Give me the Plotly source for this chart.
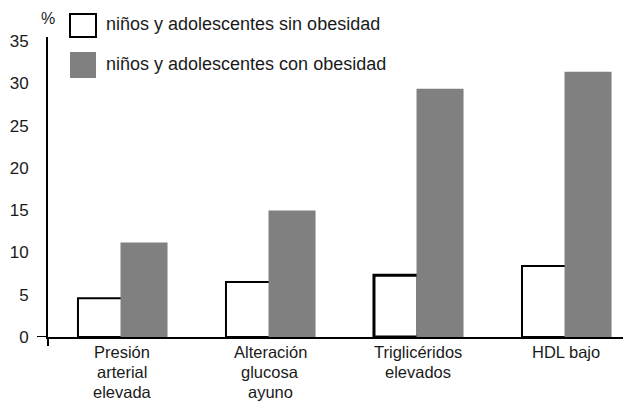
import plotly.graph_objects as go

categories = ["Presión<br>arterial<br>elevada", "Alteración<br>glucosa<br>ayuno",
              "Triglicéridos<br>elevados", "HDL bajo"]
sin_obesidad = [4.6, 6.5, 7.3, 8.4]
con_obesidad = [11.0, 14.8, 29.2, 31.2]
series_names = ["niños y adolescentes sin obesidad", "niños y adolescentes con obesidad"]
y_ticks = [0, 5, 10, 15, 20, 25, 30, 35]

W, H = 623, 402
ML, MR, MT, MB = 48, 0, 37, 65
PW, PH = W - ML - MR, H - MT - MB
FONT = "Liberation Sans, Arial, sans-serif"
TXT = "#1a1a1a"
GRAY = "#808080"

def px(x):
    return (x - ML) / PW

def py(y):
    return (H - MB - y) / PH

x_idx = list(range(len(categories)))

fig = go.Figure()
fig.add_trace(go.Bar(x=x_idx, y=sin_obesidad, name=series_names[0],
                     marker=dict(color="white", line=dict(color="black", width=[2, 2, 3, 2]))))
fig.add_trace(go.Bar(x=x_idx, y=con_obesidad, name=series_names[1],
                     marker=dict(color=GRAY, line=dict(color=GRAY, width=3))))

fig.update_layout(
    width=W, height=H,
    margin=dict(l=ML, r=MR, t=MT, b=MB, autoexpand=False),
    paper_bgcolor="white", plot_bgcolor="white",
    barmode="group", bargap=0.405, bargroupgap=0,
    showlegend=False,
    font=dict(family=FONT, size=17, color=TXT),
    xaxis=dict(range=[-0.5, 3.385], tickvals=x_idx, showticklabels=False,
               showline=True, linecolor="black", linewidth=2, ticks="",
               showgrid=False, zeroline=False, fixedrange=True, automargin=False),
    yaxis=dict(range=[0, 35.5], tickvals=y_ticks, showline=True, linecolor="black",
               linewidth=2, ticks="", showgrid=False, zeroline=False, automargin=False,
               ticklabelstandoff=14, tickfont=dict(size=17, color=TXT)),
)

# category labels (tighter line spacing than tick labels allow)
for i, cat in enumerate(categories):
    for j, line in enumerate(cat.split("<br>")):
        fig.add_annotation(xref="x", yref="paper", x=i, y=py(352 + 20 * j), text=line,
                           showarrow=False, xanchor="center", yanchor="middle",
                           font=dict(size=16.5, color=TXT))

# origin cross extensions
fig.add_shape(type="line", xref="paper", yref="y", xsizemode="pixel", xanchor=0,
              x0=-11, x1=0, y0=0, y1=0, line=dict(color="black", width=2))
fig.add_shape(type="line", xref="paper", yref="paper", ysizemode="pixel", yanchor=0,
              y0=-9, y1=0, x0=0, x1=0, line=dict(color="black", width=2))

# legend drawn manually
fig.add_shape(type="rect", xref="paper", yref="paper", x0=px(70), x1=px(96), y0=py(37), y1=py(14),
              line=dict(color="black", width=2), fillcolor="white")
fig.add_shape(type="rect", xref="paper", yref="paper", x0=px(70), x1=px(96), y0=py(78), y1=py(52),
              line=dict(width=0), fillcolor=GRAY)
fig.add_annotation(xref="paper", yref="paper", x=px(104), y=py(24), text=series_names[0],
                   showarrow=False, xanchor="left", yanchor="middle", font=dict(size=18, color=TXT))
fig.add_annotation(xref="paper", yref="paper", x=px(104), y=py(64), text=series_names[1],
                   showarrow=False, xanchor="left", yanchor="middle", font=dict(size=18, color=TXT))
fig.add_annotation(xref="paper", yref="paper", x=px(48), y=py(19), text="%",
                   showarrow=False, xanchor="center", yanchor="middle", font=dict(size=16, color=TXT))

fig.write_html("out.html")
